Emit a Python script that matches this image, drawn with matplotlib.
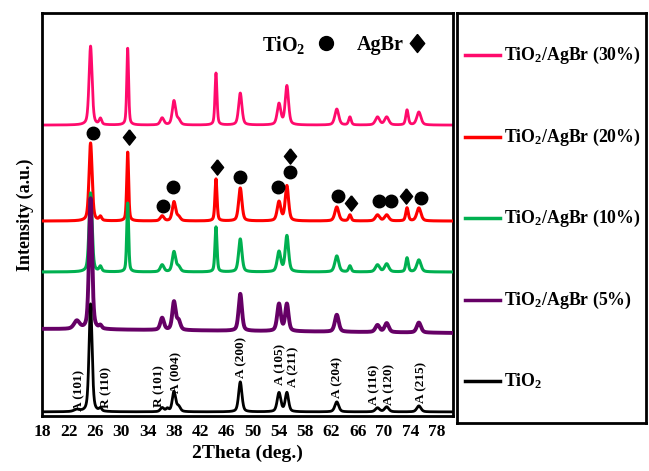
import numpy as np
import matplotlib
matplotlib.use("Agg")
import matplotlib.pyplot as plt

plt.rcParams['font.family'] = ['Liberation Serif', 'DejaVu Serif']
plt.rcParams['font.weight'] = 'bold'
plt.rcParams['mathtext.fontset'] = 'custom'
plt.rcParams['mathtext.rm'] = 'Liberation Serif:bold'
plt.rcParams['mathtext.bf'] = 'Liberation Serif:bold'
plt.rcParams['mathtext.it'] = 'Liberation Serif:bold'

# ---------------- data ----------------
series_names = ["TiO$_2$/AgBr (30%)", "TiO$_2$/AgBr (20%)", "TiO$_2$/AgBr (10%)",
                "TiO$_2$/AgBr (5%)", "TiO$_2$"]
series_colors = ["#FF0A6C", "#FF0000", "#00B050", "#660066", "#000000"]

# peak positions (2theta, deg) and widths (FWHM, deg)
peak_pos = [23.2, 25.3, 26.8, 30.95, 36.2, 37.0, 38.0, 38.7, 44.4, 48.1, 54.0, 55.2,
            62.8, 64.8, 69.0, 70.4, 73.5, 75.3]
peak_fwhm = [1.0, 0.55, 0.45, 0.33, 0.65, 0.5, 0.6, 0.65, 0.36, 0.6, 0.65, 0.6,
             0.7, 0.45, 0.75, 0.75, 0.45, 0.75]

# peak heights (arbitrary units) for each sample, same order as peak_pos
h_30 = [0, 79, 6, 77, 7, 0, 24, 5, 52, 32, 21, 39, 16, 8, 8, 8, 15, 13]
h_20 = [0, 78, 4, 69, 5, 0, 19, 4, 42, 33, 19, 35, 14, 6, 6, 6, 13, 13]
h_10 = [0, 79, 5, 69, 7, 0, 20, 5, 45, 33, 20, 36, 16, 6, 7, 8, 14, 12]
h_5 = [8, 131, 3, 0, 12, 0, 28, 9, 0, 37, 27, 27, 17, 0, 7, 9, 0, 10]
h_0 = [2, 108, 3, 0, 4, 3, 20, 5, 0, 30, 19, 19, 10, 0, 4, 5, 0, 6]
heights = [h_30, h_20, h_10, h_5, h_0]

# baseline levels (start, end)
base_start = [291, 195, 144, 87, 4]
base_end = [291, 195, 144, 83, 4]

# peak annotation markers on the 20% pattern: (2theta, level)
circle_x = [25.6, 36.3, 37.9, 48.1, 53.8, 55.7, 63.0, 69.3, 71.1, 75.7]
circle_y = [283, 210, 229, 239, 229, 244, 220, 215, 215, 218]
diamond_x = [31.2, 44.5, 55.7, 65.0, 73.4]
diamond_y = [279, 249, 260, 213, 220]

# hkl labels on the bare TiO2 pattern
hkl_labels = ["A (101)", "R (110)", "R (101)", "A (004)", "A (200)", "A (105)",
              "A (211)", "A (204)", "A (116)", "A (120)", "A (215)"]
hkl_x = [23.6, 27.7, 35.8, 38.4, 48.3, 54.2, 56.2, 62.9, 68.5, 70.8, 75.7]
hkl_y = [5, 8, 9, 23, 38, 31, 29, 18, 11, 11, 13]

xticks = [18, 22, 26, 30, 34, 38, 42, 46, 50, 54, 58, 62, 66, 70, 74, 78]

# ---------------- model ----------------
two_theta = np.arange(18.0, 80.51, 0.02)


def pattern(hts, b0, b1):
    y = b0 + (b1 - b0) * (two_theta - two_theta[0]) / (two_theta[-1] - two_theta[0])
    for p, w, h in zip(peak_pos, peak_fwhm, hts):
        if h == 0:
            continue
        lor = 1.0 / (1.0 + ((two_theta - p) / (w / 2)) ** 2)
        gau = np.exp(-4 * np.log(2) * ((two_theta - p) / w) ** 2)
        y = y + h * (0.45 * lor + 0.55 * gau)
    return y


diamond = [(0, 1), (0.8, 0), (0, -1), (-0.8, 0), (0, 1)]

fig = plt.figure(figsize=(6.49, 4.71), dpi=100)
ax = fig.add_axes([0.0647, 0.117, 0.6333, 0.855])
lw = [2.0, 2.2, 2.2, 2.8, 2.0]
for i, (hts, c) in enumerate(zip(heights, series_colors)):
    ax.plot(two_theta, pattern(hts, base_start[i], base_end[i]), color=c,
            lw=lw[i], zorder=2 + i)

ax.plot(circle_x, circle_y, 'o', color='black', ms=9, zorder=10)
ax.plot(diamond_x, diamond_y, marker=diamond, ls='none', color='black', ms=11, zorder=10)

for t, xx, yy in zip(hkl_labels, hkl_x, hkl_y):
    ax.text(xx, yy, t, rotation=90, ha='center', va='bottom', fontsize=9.5,
            fontweight='bold', zorder=11)

# composition key
ax.text(0.535, 0.92, "TiO$_2$", transform=ax.transAxes, fontsize=14.5,
        ha='left', va='center')
ax.plot([0.69], [0.925], 'o', color='black', ms=10, transform=ax.transAxes, clip_on=False)
ax.text(0.765, 0.92, "AgBr", transform=ax.transAxes, fontsize=14.5,
        ha='left', va='center')
ax.plot([0.912], [0.925], marker=diamond, ls='none', color='black', ms=13,
        transform=ax.transAxes, clip_on=False)

ax.set_xlim(17.9, 80.5)
ax.set_ylim(0, 403)
ax.set_xticks(xticks)
ax.set_yticks([])
ax.tick_params(axis='x', length=0, labelsize=12.5, pad=6)
for lbl in ax.get_xticklabels():
    lbl.set_fontweight('bold')
ax.set_xlabel("2Theta (deg.)", fontsize=14, fontweight='bold', labelpad=3)
ax.set_ylabel("Intensity (a.u.)", fontsize=13, fontweight='bold', labelpad=6)
for s in ax.spines.values():
    s.set_linewidth(2)

# legend panel
lax = fig.add_axes([0.704, 0.102, 0.291, 0.870])
lax.set_xlim(0, 1)
lax.set_ylim(0, 1)
lax.set_xticks([])
lax.set_yticks([])
for s in lax.spines.values():
    s.set_linewidth(2)
leg_y = [0.898, 0.698, 0.500, 0.300, 0.102]
for name, c, yy in zip(series_names, series_colors, leg_y):
    lax.plot([0.045, 0.228], [yy, yy], color=c, lw=2.5)
    lax.text(0.25, yy, name, fontsize=12.8, ha='left', va='center')

fig.savefig("out.png", dpi=100)
